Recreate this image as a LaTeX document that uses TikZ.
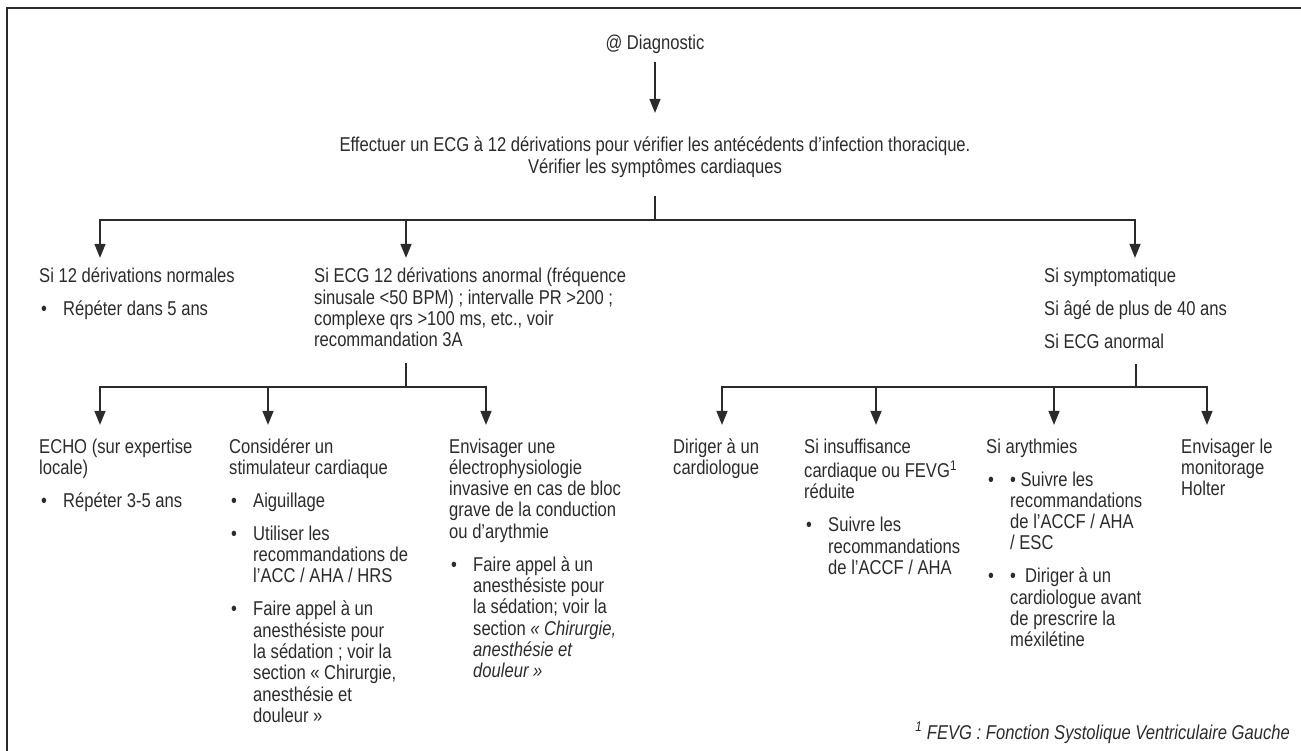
\documentclass[tikz,border=0pt]{standalone}
\usepackage{fontspec}
\setmainfont{Liberation Sans}[FakeStretch=0.83]
\usepackage{xcolor}
\usetikzlibrary{arrows.meta,positioning}

\definecolor{ink}{HTML}{2B2B2B}

% bullet item with hanging indent
\newcommand{\bul}{\hangindent=24pt\hangafter=1\noindent\makebox[24pt][l]{\hspace{2pt}\textbullet}}
% text block, first baseline on the node's base
\newcommand{\blk}[2]{\parbox[t]{#1}{\setlength{\parskip}{11.7pt}\strut#2\strut}}

\begin{document}
\begin{tikzpicture}[x=1pt, y=-1pt,
    txt/.style={anchor=base west, inner sep=0pt, text=ink, font=\fontsize{20}{21.3}\selectfont},
    line/.style={draw=ink, line width=1.5pt},
    bus/.style={line, line cap=rect},
    arr/.style={line, -{Triangle[length=14pt,width=11pt]}},
    frame/.style={draw=ink, line width=2pt}]
    \useasboundingbox (0,0) rectangle (1301,751);

    % Frame
    \draw[frame] (7,751) -- (7,8) -- (1301,8);

    % Top
    \node[txt, anchor=base] (diag) at (655,50) {\strut @ Diagnostic};
    \node[txt, anchor=base] (ecg) at (655,152) {\parbox[t]{840pt}{\centering\strut Effectuer un ECG à 12 dérivations pour vérifier les antécédents d’infection thoracique.\\ Vérifier les symptômes cardiaques\strut}};
    \draw[arr, shorten <=5.6pt, shorten >=24pt] (diag.south) -- (ecg.north);

    % Second level
    \node[txt] (norm) at (39,283) {\blk{230pt}{Si 12 dérivations normales\par\bul Répéter dans 5 ans}};
    \node[txt] (anorm) at (314,283) {\blk{340pt}{Si ECG 12 dérivations anormal (fréquence\\ sinusale <50 BPM) ; intervalle PR >200 ;\\ complexe qrs >100 ms, etc., voir\\ recommandation 3A}};
    \node[txt] (symp) at (1044,283) {\blk{220pt}{Si symptomatique\par Si âgé de plus de 40 ans\par Si ECG anormal}};

    \coordinate (j0) at (655,220);
    \coordinate (jl) at (100,220);
    \coordinate (jm) at (406,220);
    \coordinate (jr) at (1135,220);
    \draw[line, shorten <=16.6pt] (ecg.south) -- (j0);
    \draw[bus] (jl) -- (jr);
    \draw[arr, shorten >=10pt] (jl) -- (jl |- norm.north);
    \draw[arr, shorten >=10pt] (jm) -- (jm |- anorm.north);
    \draw[arr, shorten >=10pt] (jr) -- (jr |- symp.north);

    % Third level, left
    \node[txt] (echo) at (39,453) {\blk{185pt}{ECHO (sur expertise\\ locale)\par\bul Répéter 3-5 ans}};
    \node[txt] (stim) at (229,453) {\blk{215pt}{Considérer un\\ stimulateur cardiaque\par\bul Aiguillage\par\bul Utiliser les\\ recommandations de\\ l’ACC / AHA / HRS\par\bul Faire appel à un\\ anesthésiste pour\\ la sédation ; voir la\\ section « Chirurgie,\\ anesthésie et\\ douleur »}};
    \node[txt] (elec) at (449,453) {\blk{220pt}{Envisager une\\ électrophysiologie\\ invasive en cas de bloc\\ grave de la conduction\\ ou d’arythmie\par\bul Faire appel à un\\ anesthésiste pour\\ la sédation; voir la\\ section \textit{« Chirurgie,}\\ \textit{anesthésie et}\\ \textit{douleur »}}};

    \coordinate (k0) at (406,387);
    \coordinate (k1) at (100,387);
    \coordinate (k2) at (268,387);
    \coordinate (k3) at (486,387);
    \draw[line, shorten <=9.7pt] (k0 |- anorm.south) -- (k0);
    \draw[bus] (k1) -- (k3);
    \draw[arr, shorten >=13pt] (k1) -- (k1 |- echo.north);
    \draw[arr, shorten >=13pt] (k2) -- (k2 |- stim.north);
    \draw[arr, shorten >=13pt] (k3) -- (k3 |- elec.north);

    % Third level, right
    \node[txt] (card) at (673,453) {\blk{128pt}{Diriger à un\\ cardiologue}};
    \node[txt] (insuf) at (804,453) {\blk{178pt}{Si insuffisance\\ cardiaque ou FEVG\textsuperscript{1}\\ réduite\par\bul Suivre les\\ recommandations\\ de l’ACCF / AHA}};
    \node[txt] (aryth) at (986,453) {\blk{190pt}{Si arythmies\par\bul \textbullet\ Suivre les\\ recommandations\\ de l’ACCF / AHA\\ / ESC\par\bul \textbullet\ \ Diriger à un\\ cardiologue avant\\ de prescrire la\\ méxilétine}};
    \node[txt] (holt) at (1181,453) {\blk{115pt}{Envisager le\\ monitorage\\ Holter}};

    \coordinate (m0) at (1136,387);
    \coordinate (m1) at (722,387);
    \coordinate (m2) at (876,387);
    \coordinate (m3) at (1054,387);
    \coordinate (m4) at (1207,387);
    \draw[line, shorten <=8.6pt] (m0 |- symp.south) -- (m0);
    \draw[bus] (m1) -- (m4);
    \draw[arr, shorten >=13pt] (m1) -- (m1 |- card.north);
    \draw[arr, shorten >=13pt] (m2) -- (m2 |- insuf.north);
    \draw[arr, shorten >=13pt] (m3) -- (m3 |- aryth.north);
    \draw[arr, shorten >=13pt] (m4) -- (m4 |- holt.north);

    % Footnote
    \node[txt, anchor=base east] (fn) at (1290,739) {\itshape\textsuperscript{1} FEVG : Fonction Systolique Ventriculaire Gauche};
\end{tikzpicture}
\end{document}
